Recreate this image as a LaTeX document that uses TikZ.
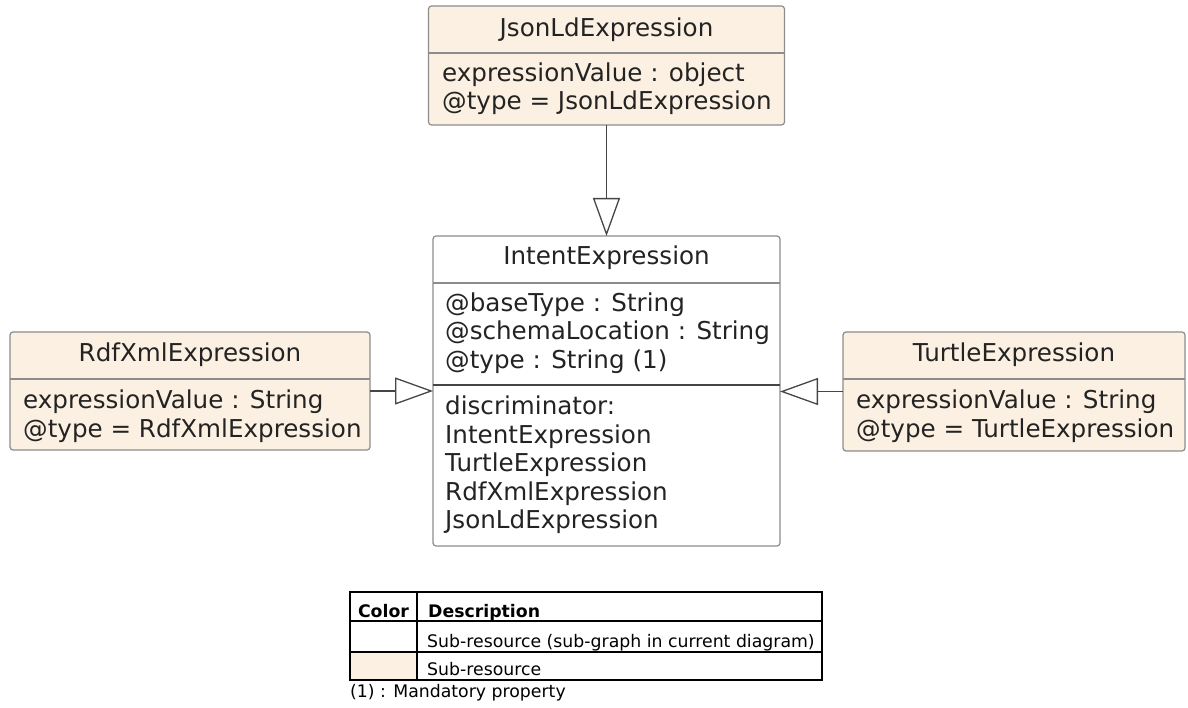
\documentclass[tikz,border=0pt]{standalone}
\usepackage{fontspec}
\setmainfont{DejaVu Sans}
\usepackage{xcolor}
\usepackage{tikz}
\usetikzlibrary{arrows.meta}

\definecolor{subcream}{RGB}{251,240,226}
\definecolor{boxgrey}{RGB}{140,140,140}
\definecolor{linegrey}{RGB}{70,70,70}
\definecolor{textgrey}{RGB}{35,35,35}

\tikzset{
  classbox/.style = {draw = boxgrey, line width = 1.2pt, rounded corners = 3pt, inner sep = 0pt, outer sep = 0pt},
  subres/.style = {classbox, fill = subcream},
  classname/.style = {inner sep = 0pt, text = textgrey, font = \fontsize{24.6}{28.5}\selectfont},
  attrs/.style = {anchor = west, align = left, inner sep = 0pt, text = textgrey, font = \fontsize{24.6}{28.5}\selectfont},
  inherit/.style = {draw = linegrey, line width = 1.3pt, -{Triangle[open, length = 38pt, width = 27pt]}},
  legendtext/.style = {anchor = base west, inner sep = 0pt, font = \fontsize{17.3}{20}\selectfont}
}

\begin{document}
\begin{tikzpicture}[x = 1pt, y = -1pt]
    \useasboundingbox (0,0) rectangle (1188,708);

    \node[subres, minimum width = 356pt, minimum height = 119pt](jsonLd) at (606.5,65.5) {};
    \node[classbox, fill = white, minimum width = 347pt, minimum height = 310pt](intent) at (606.5,391) {};
    \node[subres, minimum width = 360pt, minimum height = 118pt](rdfXml) at (190,391) {};
    \node[subres, minimum width = 342pt, minimum height = 119pt](turtle) at (1014,391.5) {};

    \draw[boxgrey, line width = 1.2pt] (jsonLd.west |- 0,53) -- (jsonLd.east |- 0,53);
    \draw[boxgrey, line width = 1.2pt] (intent.west |- 0,283) -- (intent.east |- 0,283);
    \draw[linegrey, line width = 1.6pt] (intent.west |- 0,385) -- (intent.east |- 0,385);
    \draw[boxgrey, line width = 1.2pt] (rdfXml.west |- 0,379) -- (rdfXml.east |- 0,379);
    \draw[boxgrey, line width = 1.2pt] (turtle.west |- 0,379) -- (turtle.east |- 0,379);

    \node[classname](jsonLdName) at (606.5,29.5) {JsonLdExpression};
    \node[attrs](jsonLdAttrs) at (442,88.5) {expressionValue : object\\@type = JsonLdExpression};

    \node[classname](intentName) at (606.5,258) {IntentExpression};
    \node[attrs](intentAttrs) at (445,333) {@baseType : String\\@schemaLocation : String\\@type : String (1)};
    \node[attrs](intentDisc) at (445,465) {discriminator:\\IntentExpression\\TurtleExpression\\RdfXmlExpression\\JsonLdExpression};

    \node[classname](rdfXmlName) at (190,355) {RdfXmlExpression};
    \node[attrs](rdfXmlAttrs) at (23,416) {expressionValue : String\\@type = RdfXmlExpression};

    \node[classname](turtleName) at (1014,355) {TurtleExpression};
    \node[attrs](turtleAttrs) at (856,416) {expressionValue : String\\@type = TurtleExpression};

    \draw[inherit] (jsonLd.south) -- (intent.north);
    \draw[inherit] (rdfXml.east) -- (rdfXml.east -| intent.west);
    \draw[inherit] (turtle.west) -- (turtle.west -| intent.east);

    % legend
    \fill[subcream] (350,652) rectangle (417,680);
    \draw[line width = 1.2pt] (350,592) rectangle (822,680);
    \draw[line width = 1.2pt] (350,621) -- (822,621) (350,652) -- (822,652) (417,592) -- (417,680);
    \node[anchor = base, inner sep = 0pt, font = \fontsize{17.3}{20}\selectfont\bfseries](colorHead) at (383.5,617) {Color};
    \node[legendtext, font = \fontsize{17.3}{20}\selectfont\bfseries](descHead) at (428,617) {Description};
    \node[legendtext](descSubGraph) at (427,647) {Sub-resource (sub-graph in current diagram)};
    \node[legendtext](descSub) at (427,675) {Sub-resource};
    \node[legendtext](mandatory) at (350,697) {(1) : Mandatory property};
\end{tikzpicture}
\end{document}
